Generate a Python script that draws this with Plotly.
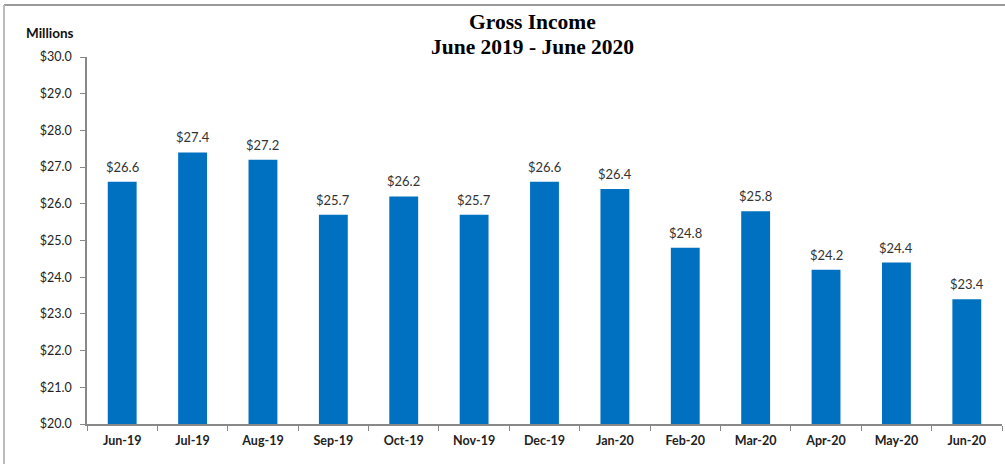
import plotly.graph_objects as go

months = ["Jun-19", "Jul-19", "Aug-19", "Sep-19", "Oct-19", "Nov-19", "Dec-19",
          "Jan-20", "Feb-20", "Mar-20", "Apr-20", "May-20", "Jun-20"]
gross_income = [26.6, 27.4, 27.2, 25.7, 26.2, 25.7, 26.6, 26.4, 24.8, 25.8, 24.2, 24.4, 23.4]
y_ticks = [20, 21, 22, 23, 24, 25, 26, 27, 28, 29, 30]
y_tick_labels = ["$%.1f" % v for v in y_ticks]

W, H = 1005, 464
L, R, T, B = 87, 3, 57, 40

fig = go.Figure(go.Bar(
    x=months, y=gross_income,
    marker=dict(color="#0070C0", line=dict(width=0)),
    hoverinfo="x+y",
))

pw = W - L - R
ph = H - T - B
def px(x):
    return (x - L) / pw
def py(y):
    return (H - B - y) / ph

label_annotations = [
    dict(text="$%.1f" % v, x=m, y=v, xref="x", yref="y", xanchor="center", yanchor="bottom",
         yshift=5, showarrow=False,
         font=dict(family="Lato, Open Sans, sans-serif", size=13, color="#333333"))
    for m, v in zip(months, gross_income)
]

fig.update_layout(
    width=W, height=H,
    margin=dict(l=L, r=R, t=T, b=B),
    paper_bgcolor="white", plot_bgcolor="white",
    bargap=0.59,
    showlegend=False,
    font=dict(family="Lato, Open Sans, sans-serif", color="#222222"),
    xaxis=dict(
        type="category", tickson="boundaries", ticks="outside", ticklen=5,
        tickcolor="#888888", showline=True, linecolor="#888888", linewidth=1.5,
        tickfont=dict(size=12.5, color="#222222", family="Lato, sans-serif", weight="bold"),
        ticklabelstandoff=4,
        showgrid=False,
    ),
    yaxis=dict(
        range=[20, 30], tickvals=y_ticks, ticktext=y_tick_labels,
        ticks="outside", ticklen=5, tickcolor="#888888",
        showline=True, linecolor="#888888", linewidth=1.5,
        tickfont=dict(size=12.5, color="#222222"),
        ticklabelstandoff=6,
        showgrid=False, zeroline=False,
    ),
    annotations=label_annotations + [
        dict(text="<b>Gross Income</b>",
             xref="paper", yref="paper", x=px(532), y=py(22), xanchor="center", yanchor="middle",
             showarrow=False, font=dict(family="Liberation Serif, Times New Roman, serif", size=21.5, color="#000000")),
        dict(text="<b>June 2019 - June 2020</b>",
             xref="paper", yref="paper", x=px(532), y=py(47), xanchor="center", yanchor="middle",
             showarrow=False, font=dict(family="Liberation Serif, Times New Roman, serif", size=21.5, color="#000000")),
        dict(text="<b>Millions</b>", xref="paper", yref="paper", x=px(24), y=py(33),
             xanchor="left", yanchor="middle", showarrow=False,
             font=dict(size=13.5, color="#111111")),
    ],
    shapes=[
        dict(type="line", xref="paper", yref="paper", x0=px(4), x1=px(1010), y0=py(5), y1=py(5),
             line=dict(color="#999999", width=2)),
        dict(type="line", xref="paper", yref="paper", x0=px(4), x1=px(4), y0=py(5), y1=py(470),
             line=dict(color="#bbbbbb", width=2)),
    ],
)

fig.write_html("out.html", config={"displayModeBar": False},
               post_script="document.body.style.margin='0';document.body.style.overflow='hidden';")
